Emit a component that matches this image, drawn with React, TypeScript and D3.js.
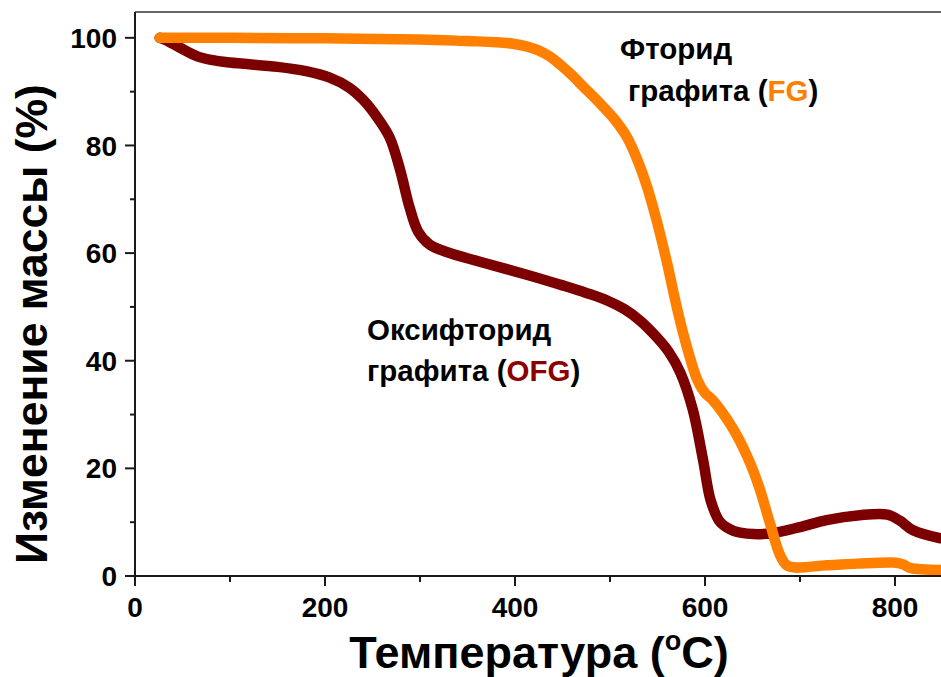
import React from "react";
import * as d3 from "d3";

// Thermogravimetric curves: temperature (°C) vs. mass change (%)
const ofgTemp = [26, 32, 47, 65, 80, 100, 150, 180, 205, 225, 240, 255, 268, 279, 289, 298, 310, 328, 363, 416, 450, 475, 497, 515, 532, 549, 562, 574, 587, 598, 606, 616, 630, 651, 672, 700, 728, 763, 792, 805, 819, 848];
const ofgMass = [100, 99.6, 98.2, 96.6, 95.9, 95.4, 94.6, 93.8, 92.6, 90.8, 88.5, 85.2, 81.5, 75.5, 68.5, 64.0, 61.6, 60.2, 58.4, 55.8, 54.0, 52.6, 51.2, 49.6, 47.4, 44.4, 41.6, 37.8, 31.0, 21.5, 14.0, 10.0, 8.4, 7.8, 8.0, 9.1, 10.4, 11.3, 11.4, 10.3, 8.5, 7.0];

const fgTemp = [26, 100, 200, 300, 350, 380, 398, 412, 424, 436, 447, 458, 468, 489, 505, 518, 530, 539, 549, 560, 571, 581, 592, 600, 608, 629, 645, 657, 668, 680, 688, 728, 760, 798, 808, 816, 848];
const fgMass = [100, 100, 99.9, 99.7, 99.4, 99.2, 98.9, 98.4, 97.7, 96.6, 95.1, 93.4, 91.6, 87.9, 84.8, 81.5, 76.8, 72.3, 66.1, 58.2, 49.4, 42.5, 36.4, 34.0, 32.7, 27.5, 22.0, 16.5, 10, 3.5, 1.8, 2.0, 2.3, 2.5, 2.2, 1.5, 1.1];

const xMajorTicks = [0, 200, 400, 600, 800];
const xMinorTicks = [100, 300, 500, 700];
const yMajorTicks = [0, 20, 40, 60, 80, 100];
const yMinorTicks = [10, 30, 50, 70, 90];

const ORANGE = "#FF8000";
const DARK_RED = "#7D0000";
const FONT = "'Liberation Sans', Arial, Helvetica, sans-serif";

const W = 941;
const H = 677;
const left = 135;
const top = 12;
const bottom = 576;

export default function App() {
  const x = d3.scaleLinear().domain([0, 848.4]).range([left, W]);
  const y = d3.scaleLinear().domain([0, 104.8]).range([bottom, top]);

  const path = d3
    .line<[number, number]>()
    .x((d) => x(d[0]))
    .y((d) => y(d[1]))
    .curve(d3.curveCatmullRom.alpha(0.5));

  const ofg: [number, number][] = ofgTemp.map((t, i) => [t, ofgMass[i]]);
  const fg: [number, number][] = fgTemp.map((t, i) => [t, fgMass[i]]);

  const axisColor = "#1a1a1a";

  return (
    <svg
      width={W}
      height={H}
      style={{ position: "absolute", left: 0, top: 0, background: "#fff" }}
      fontFamily={FONT}
    >
      <rect x={0} y={0} width={W} height={H} fill="#fff" />

      {/* frame */}
      <line x1={left} x2={W} y1={top} y2={top} stroke="#333" strokeWidth={1.6} />

      {/* curves */}
      <path d={path(ofg) || ""} fill="none" stroke={DARK_RED} strokeWidth={10.5} strokeLinecap="round" strokeLinejoin="round" />
      <path d={path(fg) || ""} fill="none" stroke={ORANGE} strokeWidth={10.5} strokeLinecap="round" strokeLinejoin="round" />

      {/* axes */}
      <line x1={left} x2={left} y1={top} y2={bottom} stroke={axisColor} strokeWidth={2} />
      <line x1={left} x2={W} y1={bottom} y2={bottom} stroke={axisColor} strokeWidth={2} />

      {yMajorTicks.map((v) => (
        <g key={"ym" + v}>
          <line x1={left - 10} x2={left} y1={y(v)} y2={y(v)} stroke={axisColor} strokeWidth={2} />
          <text x={117} y={y(v)} dy="0.36em" textAnchor="end" fontSize={28} fontWeight="bold" fill="#000">
            {v}
          </text>
        </g>
      ))}
      {yMinorTicks.map((v) => (
        <line key={"yn" + v} x1={left - 5} x2={left} y1={y(v)} y2={y(v)} stroke={axisColor} strokeWidth={2} />
      ))}

      {xMajorTicks.map((v) => (
        <g key={"xm" + v}>
          <line x1={x(v)} x2={x(v)} y1={bottom} y2={bottom + 10} stroke={axisColor} strokeWidth={2} />
          <text x={x(v)} y={617} textAnchor="middle" fontSize={28} fontWeight="bold" fill="#000">
            {v}
          </text>
        </g>
      ))}
      {xMinorTicks.map((v) => (
        <line key={"xn" + v} x1={x(v)} x2={x(v)} y1={bottom} y2={bottom + 6} stroke={axisColor} strokeWidth={2} />
      ))}

      {/* axis titles */}
      <text x={539} y={668} textAnchor="middle" fontSize={45} fontWeight="bold" fill="#000">
        Температура (
        <tspan fontSize={27} dy={-18}>o</tspan>
        <tspan dy={18}>C)</tspan>
      </text>
      <text
        transform="translate(47,324) rotate(-90)"
        textAnchor="middle"
        fontSize={44.5}
        fontWeight="bold"
        fill="#000"
      >
        Изменение массы (%)
      </text>

      {/* annotations */}
      <text x={620} y={59} fontSize={29.5} fontWeight="bold" fill="#000">
        Фторид
      </text>
      <text x={628} y={101} fontSize={29.5} fontWeight="bold" fill="#000">
        графита (<tspan fill={ORANGE}>FG</tspan>)
      </text>
      <text x={367} y={340} fontSize={29.5} fontWeight="bold" fill="#000">
        Оксифторид
      </text>
      <text x={367} y={381} fontSize={29.5} fontWeight="bold" fill="#000">
        графита (<tspan fill="#8B0000">OFG</tspan>)
      </text>
    </svg>
  );
}
